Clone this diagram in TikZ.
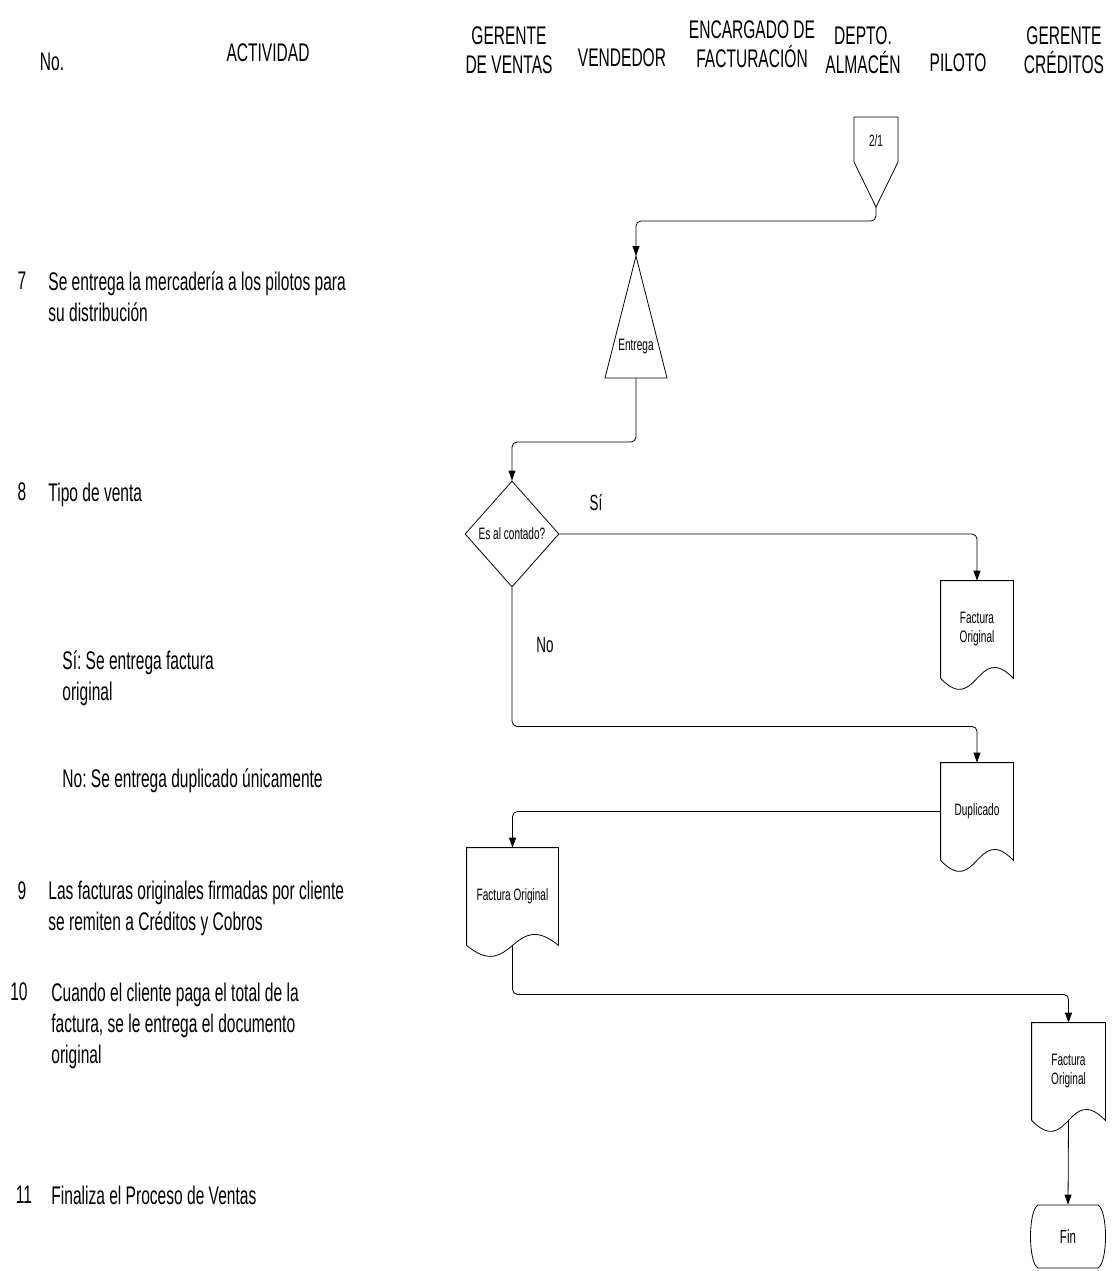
\documentclass[tikz,border=0pt]{standalone}
\usepackage{fontspec}
\setmainfont{Liberation Sans}[FakeStretch=0.61]
\usetikzlibrary{arrows.meta,shapes.geometric,calc}
\frenchspacing
\newcommand\docoutline[1]{\draw (#1.south west) -- (#1.north west) -- (#1.north east) -- (#1.south east) .. controls ($(#1.south)+(0,-38)$) and ($(#1.south)+(0,38)$) .. (#1.south west);}
\begin{document}
\begin{tikzpicture}[x=1pt,y=-1pt,
  line width=0.8pt,
  arr/.style={-{Triangle[length=10pt,width=7pt]}, rounded corners=5pt},
  head/.style={font=\fontsize{25.5}{29}\selectfont, inner sep=0pt, align=center, anchor=north},
  txt/.style={font=\fontsize{25.5}{31}\selectfont, inner sep=0pt, align=left, anchor=north west},
  num/.style={font=\fontsize{25.5}{31}\selectfont, inner sep=0pt},
  lbl/.style={font=\fontsize{22}{26}\selectfont, inner sep=0pt},
  small/.style={font=\fontsize{16.5}{19}\selectfont, inner sep=0pt, align=center},
  docbox/.style={small, minimum width=72pt, minimum height=97pt}]
\fill[white] (0,0) rectangle (1112,1271);
\useasboundingbox (0,0) rectangle (1112,1271);

% header
\node[head] (hNo) at (52,52.8) {No.};
\node[head] (hAct) at (268,42.8) {ACTIVIDAD};
\node[head] (hGV) at (509,25.8) {GERENTE\\DE VENTAS};
\node[head] (hVen) at (622,47.8) {VENDEDOR};
\node[head] (hFac) at (752,19.8) {ENCARGADO DE\\FACTURACIÓN};
\node[head] (hAlm) at (863,25.8) {DEPTO.\\ALMACÉN};
\node[head] (hPil) at (958,52.8) {PILOTO};
\node[head] (hCre) at (1064,25.8) {GERENTE\\CRÉDITOS};

% activities
\node[num] (n7) at (22,281) {7};
\node[txt] (t7) at (48,271.8) {Se entrega la mercadería a los pilotos para\\su distribución};
\node[num] (n8) at (22,492) {8};
\node[txt] (t8) at (48,482.8) {Tipo de venta};
\node[txt] (tSi) at (62,650.8) {Sí: Se entrega factura\\original};
\node[txt] (tNo) at (62,768.8) {No: Se entrega duplicado únicamente};
\node[num] (n9) at (22,891) {9};
\node[txt] (t9) at (48,880.8) {Las facturas originales firmadas por cliente\\se remiten a Créditos y Cobros};
\node[num] (n10) at (19,992) {10};
\node[txt] (t10) at (51,982.8) {Cuando el cliente paga el total de la\\factura, se le entrega el documento\\original};
\node[num] (n11) at (24,1195) {11};
\node[txt] (t11) at (51,1185.8) {Finaliza el Proceso de Ventas};

% off-page connector
\node[small] (c21) at (876,141) {2/1};
\coordinate (c21tip) at ($(c21)+(0,66)$);
\draw ($(c21)+(-22,21)$) -- ($(c21)+(-22,-24)$) -- ($(c21)+(22,-24)$) -- ($(c21)+(22,21)$) -- (c21tip) -- cycle;

% triangle
\node[small] (tri) at (636,347) {Entrega};
\coordinate (triTop) at ($(tri)+(0,-91)$);
\coordinate (triBot) at ($(tri)+(0,31)$);
\draw ($(tri)+(-31,31)$) -- (triTop) -- ($(tri)+(31,31)$) -- cycle;

% decision
\node[draw, diamond, minimum width=94pt, minimum height=106pt, small] (dia) at (512,534) {Es al contado?};

% documents
\node[docbox] (d1) at (977,629.5) {Factura\\Original};
\docoutline{d1}
\node[docbox] (d2) at (977,811.5) {Duplicado};
\docoutline{d2}
\node[docbox, minimum width=91pt] (d3) at (512.5,896.5) {Factura Original};
\docoutline{d3}
\node[docbox, minimum width=73pt] (d4) at (1068.5,1071.5) {Factura\\Original};
\docoutline{d4}

% terminator
\node[font=\fontsize{19}{22}\selectfont, inner sep=0pt, minimum width=66pt, minimum height=63pt] (fin) at (1068,1236.5) {Fin};
\draw ($(fin)+(-30,-31.5)$) -- ($(fin)+(30,-31.5)$) .. controls ($(fin)+(40,-26)$) and ($(fin)+(40,26)$) .. ($(fin)+(30,31.5)$) -- ($(fin)+(-30,31.5)$) .. controls ($(fin)+(-40,26)$) and ($(fin)+(-40,-26)$) .. cycle;

% labels
\node[lbl] (lSi) at (596,503) {Sí};
\node[lbl] (lNo) at (545,645) {No};

% connectors
\draw[arr] (c21tip) -- ++(0,14) -| (triTop);
\draw[arr] (triBot) -- ++(0,64) -| (dia.north);
\draw[arr] (dia.east) -| (d1.north);
\draw[arr] (dia.south) -- ++(0,139) -| (d2.north);
\draw[arr] (d2.west) -| (d3.north);
\draw[arr] (d3.south) -- ++(0,49) -| (d4.north);
\draw[arr] (d4.south) -- (fin.north);
\end{tikzpicture}
\end{document}
